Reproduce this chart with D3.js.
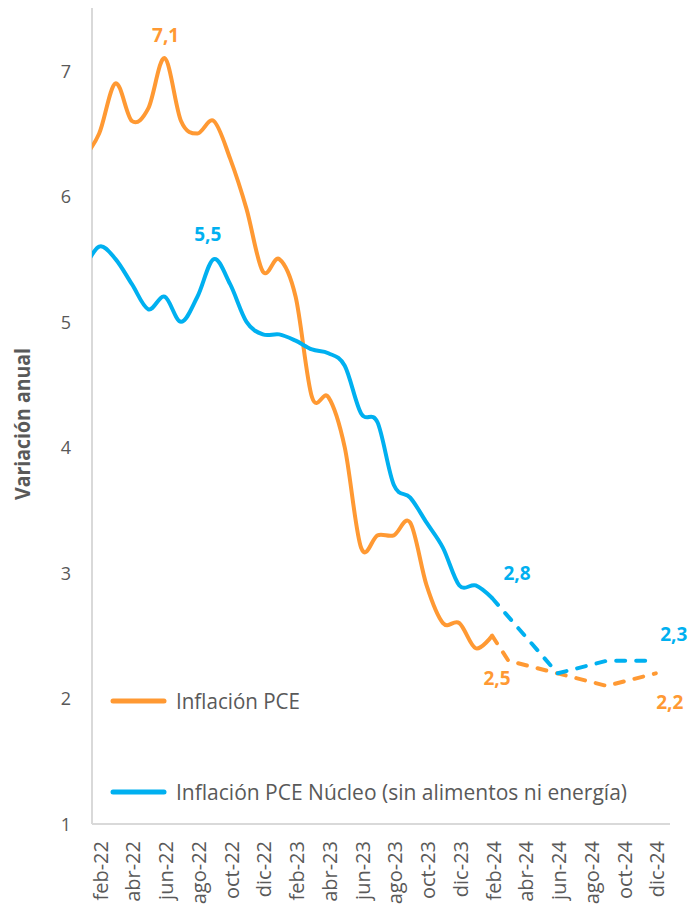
<!DOCTYPE html>
<html>
<head>
<meta charset="utf-8">
<script src="https://cdn.jsdelivr.net/npm/d3@7"></script>
<style>
  html, body { margin: 0; padding: 0; background: #ffffff; }
  svg { display: block; }
</style>
</head>
<body>
<svg id="chart" width="692" height="905"></svg>
<script>
// ---------------- DATA ----------------
const categories = [
  "ene-22","feb-22","mar-22","abr-22","may-22","jun-22","jul-22","ago-22","sep-22","oct-22","nov-22","dic-22",
  "ene-23","feb-23","mar-23","abr-23","may-23","jun-23","jul-23","ago-23","sep-23","oct-23","nov-23","dic-23",
  "ene-24","feb-24","mar-24","abr-24","may-24","jun-24","jul-24","ago-24","sep-24","oct-24","nov-24","dic-24"
];
const tickLabels = ["feb-22","abr-22","jun-22","ago-22","oct-22","dic-22","feb-23","abr-23","jun-23","ago-23","oct-23","dic-23",
                    "feb-24","abr-24","jun-24","ago-24","oct-24","dic-24"];
const yTicks = [1, 2, 3, 4, 5, 6, 7];

// Observed monthly values, ene-22 .. feb-24
const pceActual  = [6.3, 6.5, 6.9, 6.6, 6.7, 7.1, 6.6, 6.5, 6.6, 6.3, 5.9, 5.4,
                    5.5, 5.2, 4.4, 4.4, 4.0, 3.2, 3.3, 3.3, 3.4, 2.9, 2.6, 2.6,
                    2.4, 2.5];
const coreActual = [5.4, 5.6, 5.5, 5.3, 5.1, 5.2, 5.0, 5.2, 5.5, 5.3, 5.0, 4.9,
                    4.9, 4.85, 4.78, 4.75, 4.65, 4.27, 4.2, 3.7, 3.6, 3.4, 3.2, 2.9,
                    2.9, 2.8];
// Projections (dashed)
const projMonths = ["feb-24", "mar-24", "jun-24", "sep-24", "dic-24"];
const pceProj    = [2.5, 2.3, 2.2, 2.1, 2.2];
const coreProj   = [2.8, null, 2.2, 2.3, 2.3];

const seriesNames = ["Inflación PCE", "Inflación PCE Núcleo (sin alimentos ni energía)"];
const axisTitle = "Variación anual";

// ---------------- STYLE ----------------
const ORANGE = "#FF9933";
const BLUE = "#00B0F0";
const TEXT = "#595959";
const AXIS = "#D9D9D9";
const FONT = "'Open Sans', 'Liberation Sans', sans-serif";

const svg = d3.select("#chart");

const plotLeft = 92, plotRight = 670, plotTop = 8, plotBottom = 824;

const x = d3.scalePoint().domain(categories).range([82.8, 655.8]);
const y = d3.scaleLinear().domain([1, 7.5]).range([plotBottom, plotTop]);

// clip
svg.append("defs").append("clipPath").attr("id", "plotclip")
  .append("rect").attr("x", plotLeft).attr("y", 0).attr("width", 692 - plotLeft).attr("height", plotBottom);

// axes lines
svg.append("line").attr("x1", plotLeft).attr("x2", plotLeft).attr("y1", plotTop).attr("y2", plotBottom)
  .attr("stroke", AXIS).attr("stroke-width", 2);
svg.append("line").attr("x1", plotLeft).attr("x2", plotRight).attr("y1", plotBottom).attr("y2", plotBottom)
  .attr("stroke", AXIS).attr("stroke-width", 2);

// y tick labels
svg.append("g").selectAll("text").data(yTicks).join("text")
  .attr("x", 66).attr("y", d => y(d))
  .attr("text-anchor", "middle").attr("dominant-baseline", "central")
  .attr("font-family", FONT).attr("font-size", 18).attr("fill", TEXT)
  .text(d => d);

// x tick labels
svg.append("g").selectAll("text").data(tickLabels).join("text")
  .attr("transform", d => `translate(${x(d) + 1},${plotBottom + 17}) rotate(-90)`)
  .attr("text-anchor", "end").attr("dominant-baseline", "central")
  .attr("font-family", FONT).attr("font-size", 20).attr("fill", TEXT)
  .text(d => d);

// axis title
svg.append("text")
  .attr("transform", "translate(22,424) rotate(-90)")
  .attr("text-anchor", "middle").attr("dominant-baseline", "central")
  .attr("font-family", FONT).attr("font-weight", "bold").attr("font-size", 21).attr("fill", TEXT)
  .attr("textLength", 152).attr("lengthAdjust", "spacingAndGlyphs")
  .text(axisTitle);

// lines
const g = svg.append("g").attr("clip-path", "url(#plotclip)");
const smooth = d3.line().x(d => x(d.m)).y(d => y(d.v)).curve(d3.curveCardinal.tension(0));
const straight = d3.line().x(d => x(d.m)).y(d => y(d.v));

const toPts = (vals, months) => vals.map((v, i) => ({ m: months[i], v })).filter(d => d.v != null);

const pceA = toPts(pceActual, categories);
const coreA = toPts(coreActual, categories);
const pceP = toPts(pceProj, projMonths);
const coreP = toPts(coreProj, projMonths);

g.append("path").datum(pceP).attr("d", straight).attr("fill", "none").attr("stroke", ORANGE)
  .attr("stroke-width", 4).attr("stroke-dasharray", "9,11").attr("stroke-linecap", "round");
g.append("path").datum(coreP).attr("d", straight).attr("fill", "none").attr("stroke", BLUE)
  .attr("stroke-width", 4).attr("stroke-dasharray", "9,11").attr("stroke-linecap", "round");
g.append("path").datum(pceA).attr("d", smooth).attr("fill", "none").attr("stroke", ORANGE)
  .attr("stroke-width", 4).attr("stroke-linejoin", "round");
g.append("path").datum(coreA).attr("d", smooth).attr("fill", "none").attr("stroke", BLUE)
  .attr("stroke-width", 4).attr("stroke-linejoin", "round");

// data labels
const fmt = v => String(v).replace(".", ",");
const labels = [
  { m: "jun-22", v: pceActual[categories.indexOf("jun-22")], c: ORANGE, dx: 1, dy: -23 },
  { m: "sep-22", v: coreActual[categories.indexOf("sep-22")], c: BLUE, dx: -6, dy: -25 },
  { m: "feb-24", v: coreActual[categories.indexOf("feb-24")], c: BLUE, dx: 25, dy: -25 },
  { m: "feb-24", v: pceActual[categories.indexOf("feb-24")], c: ORANGE, dx: 5, dy: 42 },
  { m: "dic-24", v: coreProj[projMonths.indexOf("dic-24")], c: BLUE, dx: 18, dy: -27 },
  { m: "dic-24", v: pceProj[projMonths.indexOf("dic-24")], c: ORANGE, dx: 14, dy: 29 }
];
svg.append("g").selectAll("text").data(labels).join("text")
  .attr("x", d => x(d.m) + d.dx).attr("y", d => y(d.v) + d.dy)
  .attr("text-anchor", "middle").attr("dominant-baseline", "central")
  .attr("font-family", FONT).attr("font-weight", "bold").attr("font-size", 19).attr("fill", d => d.c)
  .text(d => fmt(d.v));

// legend
const legend = [
  { name: seriesNames[0], c: ORANGE, y: 701, w: 124 },
  { name: seriesNames[1], c: BLUE, y: 792, w: 451 }
];
const lg = svg.append("g");
lg.selectAll("line").data(legend).join("line")
  .attr("x1", 113).attr("x2", 164).attr("y1", d => d.y).attr("y2", d => d.y)
  .attr("stroke", d => d.c).attr("stroke-width", 5).attr("stroke-linecap", "round");
lg.selectAll("text").data(legend).join("text")
  .attr("x", 176).attr("y", d => d.y)
  .attr("dominant-baseline", "central")
  .attr("font-family", FONT).attr("font-size", 21).attr("fill", TEXT)
  .attr("textLength", d => d.w).attr("lengthAdjust", "spacingAndGlyphs")
  .text(d => d.name);
</script>
</body>
</html>
